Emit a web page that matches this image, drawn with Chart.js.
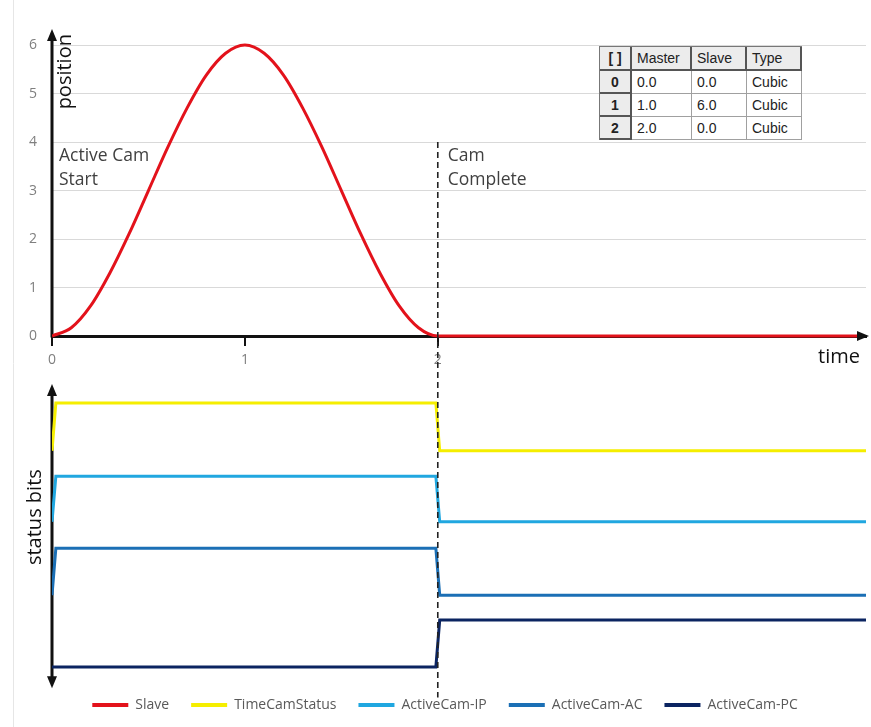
<!DOCTYPE html>
<html lang="en">
<head>
<meta charset="utf-8">
<script src="https://cdn.jsdelivr.net/npm/chart.js@4.4.0/dist/chart.umd.min.js"></script>
<style>
  html, body { margin: 0; padding: 0; background: #fff; }
  #caixa { position: relative; width: 871px; height: 727px; }
  #tabela {
    position: absolute; left: 599px; top: 46px;
    border-collapse: separate; border-spacing: 0;
    border-top: 1px solid #777; border-left: 1px solid #777;
    font: 14px "Liberation Sans", Arial, sans-serif; color: #222; background: #fff;
  }
  #tabela th, #tabela td {
    height: 21px; padding: 0 3px 0 5px; text-align: left; font-weight: normal;
    border-right: 1px solid #a0a0a0; border-bottom: 1px solid #a0a0a0;
  }
  #tabela th { background: #ececec; border-right: 2px solid #555; border-bottom: 2px solid #555; height: 22px; }
  #tabela td.idx { background: #ececec; font-weight: bold; text-align: center; padding: 0 3px; border-right: 2px solid #555; border-bottom: 2px solid #555; }
  #tabela th:first-child { font-weight: bold; text-align: center; padding: 0 3px; }
</style>
</head>
<body>
<div id="caixa">
  <canvas id="grafico" width="871" height="727"></canvas>
  <table id="tabela"></table>
</div>
<script>
// Dados do grafico
const slaveTempo = [0, 0.1, 0.2, 0.3, 0.4, 0.5, 0.6, 0.7, 0.8, 0.9, 1.0, 1.1, 1.2, 1.3, 1.4, 1.5, 1.6, 1.7, 1.8, 1.9, 2.0, 4.2];
const slavePosicao = [0, 0.17, 0.62, 1.3, 2.11, 3.0, 3.89, 4.7, 5.38, 5.83, 6.0, 5.83, 5.38, 4.7, 3.89, 3.0, 2.11, 1.3, 0.62, 0.17, 0, 0];

const estadoTempo = [0, 0.02, 1.99, 2.01, 4.22];
const timeCamStatus = [4.6, 5.62, 5.62, 4.6, 4.6];
const activeCamIP = [3.09, 4.06, 4.06, 3.09, 3.09];
const activeCamAC = [1.53, 2.53, 2.53, 1.53, 1.53];
const activeCamPC = [0, 0, 0, 1, 1];

const xTicks = [0, 1, 2];
const yTicks = [0, 1, 2, 3, 4, 5, 6];

// Tabela do cam
const colunas = ["[ ]", "Master", "Slave", "Type"];
const larguras = [24, 50, 45, 45];
const mestre = ["0.0", "1.0", "2.0"];
const escravo = ["0.0", "6.0", "0.0"];
const tipo = ["Cubic", "Cubic", "Cubic"];

const tabela = document.getElementById("tabela");
let html = "<tr>" + colunas.map((c, i) => `<th style="width:${larguras[i]}px">${c}</th>`).join("") + "</tr>";
mestre.forEach((m, i) => {
  html += `<tr><td class="idx">${i}</td><td>${m}</td><td>${escravo[i]}</td><td>${tipo[i]}</td></tr>`;
});
tabela.innerHTML = html;

const pontos = (xs, ys) => xs.map((x, i) => ({ x: x, y: ys[i] }));

function seta(c, x, y, dx, dy) {
  // triangulo com ponta em (x,y) a apontar na direcao (dx,dy)
  const len = 12, half = 5;
  c.beginPath();
  c.moveTo(x, y);
  c.lineTo(x - dx * len - dy * half, y - dy * len + dx * half);
  c.lineTo(x - dx * len + dy * half, y - dy * len - dx * half);
  c.closePath();
  c.fill();
}

const eixos = {
  id: "eixos",
  beforeDraw(chart) {
    const c = chart.ctx;
    c.save();
    c.strokeStyle = "#e6e6e6";
    c.lineWidth = 1;
    c.beginPath();
    c.moveTo(13.5, 0);
    c.lineTo(13.5, chart.height);
    c.stroke();
    c.restore();
  },
  beforeDatasetsDraw(chart) {
    const { ctx: c, scales: { x, y, ys } } = chart;
    const x0 = x.getPixelForValue(0);
    c.save();
    c.strokeStyle = "#111";
    c.lineWidth = 3;
    c.beginPath();
    c.moveTo(x0, y.getPixelForValue(0) + 1.5);
    c.lineTo(x0, y.getPixelForValue(6.33) + 8);
    c.moveTo(x0, ys.getPixelForValue(6.02) + 8);
    c.lineTo(x0, ys.getPixelForValue(-0.45) - 8);
    c.stroke();
    c.restore();
  },
  afterDatasetsDraw(chart) {
    const { ctx: c, scales: { x, y, ys }, chartArea } = chart;
    const x0 = x.getPixelForValue(0);
    const y0 = y.getPixelForValue(0);
    const x2 = x.getPixelForValue(2);
    c.save();

    // linha tracejada em t = 2
    c.strokeStyle = "#222";
    c.lineWidth = 1.6;
    c.setLineDash([6, 4]);
    c.beginPath();
    c.moveTo(x2, y.getPixelForValue(4));
    c.lineTo(x2, ys.getPixelForValue(-0.65));
    c.stroke();
    c.setLineDash([]);

    // setas dos eixos
    c.fillStyle = "#111";
    seta(c, x0, y.getPixelForValue(6.33), 0, -1);
    seta(c, x0, ys.getPixelForValue(6.02), 0, -1);
    seta(c, x0, ys.getPixelForValue(-0.45), 0, 1);
    seta(c, chartArea.right + 3, y0, 1, 0);

    // textos
    c.fillStyle = "#404040";
    c.font = '17.5px "Open Sans"';
    c.textAlign = "left";
    c.textBaseline = "alphabetic";
    const yt = y.getPixelForValue(3.6);
    c.fillText("Active Cam", x0 + 7, yt);
    c.fillText("Start", x0 + 7, yt + 23.5);
    c.fillText("Cam", x2 + 10, yt);
    c.fillText("Complete", x2 + 10, yt + 23.5);

    c.fillStyle = "#111";
    c.font = '20px "Open Sans"';
    c.textAlign = "right";
    c.fillText("time", chartArea.right - 6, y0 + 27);

    c.textAlign = "center";
    c.textBaseline = "middle";
    c.save();
    c.translate(x0 + 13, y.getPixelForValue(5.45));
    c.rotate(-Math.PI / 2);
    c.fillText("position", 0, 0);
    c.restore();
    c.save();
    c.translate(x0 - 17, ys.getPixelForValue(3.19));
    c.rotate(-Math.PI / 2);
    c.fillText("status bits", 0, 0);
    c.restore();

    c.restore();
  }
};

const ctx = document.getElementById("grafico").getContext("2d");

new Chart(ctx, {
  type: "line",
  data: {
    datasets: [
      { label: "Slave", data: pontos(slaveTempo, slavePosicao), borderColor: "#e3121b", borderWidth: 3, yAxisID: "y", cubicInterpolationMode: "monotone" },
      { label: "TimeCamStatus", data: pontos(estadoTempo, timeCamStatus), borderColor: "#f5ee00", borderWidth: 3, yAxisID: "ys" },
      { label: "ActiveCam-IP", data: pontos(estadoTempo, activeCamIP), borderColor: "#20a7e0", borderWidth: 3, yAxisID: "ys" },
      { label: "ActiveCam-AC", data: pontos(estadoTempo, activeCamAC), borderColor: "#1b6fb5", borderWidth: 3, yAxisID: "ys" },
      { label: "ActiveCam-PC", data: pontos(estadoTempo, activeCamPC), borderColor: "#0b2461", borderWidth: 3, yAxisID: "ys" }
    ]
  },
  options: {
    responsive: false,
    animation: false,
    devicePixelRatio: 1,
    elements: { point: { radius: 0 }, line: { fill: false } },
    layout: { padding: { top: 30, right: 5, bottom: 5, left: 24 } },
    scales: {
      x: {
        type: "linear",
        position: { y: 0 },
        min: 0,
        max: 4.22,
        afterBuildTicks: s => { s.ticks = xTicks.map(v => ({ value: v })); },
        ticks: { color: "#7f7f7f", font: { family: "Open Sans", size: 14 }, padding: 8, maxRotation: 0 },
        grid: { drawOnChartArea: false, drawTicks: true, tickLength: 8, color: "#111", lineWidth: 2 },
        border: { display: true, color: "#111", width: 3 }
      },
      y: {
        type: "linear",
        position: "left",
        min: -7.01,
        max: 6.31,
        afterBuildTicks: s => { s.ticks = yTicks.map(v => ({ value: v })); },
        afterFit: s => { s.width = 28; },
        ticks: { color: "#7f7f7f", font: { family: "Open Sans", size: 14 }, padding: 15 },
        grid: { color: "#d9d9d9", lineWidth: 1, drawTicks: false },
        border: { display: false }
      },
      ys: {
        type: "linear",
        display: false,
        min: -0.19,
        max: 13.553
      }
    },
    plugins: {
      legend: {
        position: "bottom",
        labels: {
          color: "#595959",
          font: { family: "Open Sans", size: 14 },
          boxWidth: 36,
          boxHeight: 4,
          padding: 22,
          generateLabels: chart => Chart.defaults.plugins.legend.labels.generateLabels(chart)
            .map(item => ({ ...item, fillStyle: item.strokeStyle, lineWidth: 0 }))
        }
      },
      tooltip: { enabled: false }
    }
  },
  plugins: [eixos]
});
</script>
</body>
</html>
